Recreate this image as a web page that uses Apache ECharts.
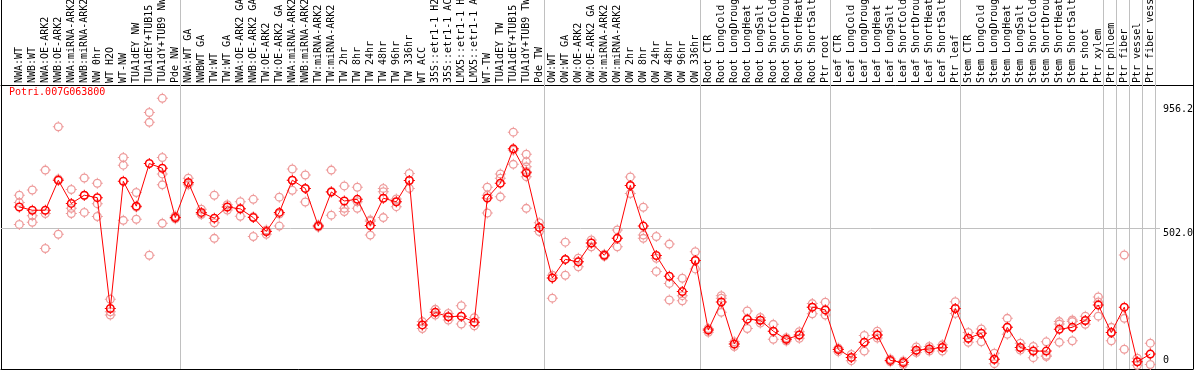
<!DOCTYPE html>
<html>
<head>
<meta charset="utf-8">
<script src="https://cdn.jsdelivr.net/npm/echarts@6/dist/echarts.min.js"></script>
<style>
html,body{margin:0;padding:0;background:#fff;}
#chart{width:1194px;height:370px;}
</style>
</head>
<body>
<div id="chart"></div>
<script>
const title = 'Potri.007G063800';

const categories = [
  'NWA:WT','NWB:WT','NWA:OE-ARK2','NWB:OE-ARK2','NWA:miRNA-ARK2','NWB:miRNA-ARK2','NW 0hr','WT H2O','WT-NW',
  'TUA1dEY NW','TUA1dEY+TUB15','TUA1dY+TUB9 NW','Pde NW',
  'NWA:WT GA','NWBWT GA','TW:WT','TW:WT GA','NWA:OE-ARK2 GA','NWB:OE-ARK2 GA','TW:OE-ARK2','TW:OE-ARK2 GA',
  'NWA:miRNA-ARK2','NWB:miRNA-ARK2','TW:miRNA-ARK2','TW:miRNA-ARK2','TW 2hr','TW 8hr','TW 24hr','TW 48hr',
  'TW 96hr','TW 336hr','WT ACC','35S::etr1-1 H2','35S::etr1-1 AC','LMX5::etr1-1 H','LMX5::etr1-1 A',
  'WT-TW','TUA1dEY TW','TUA1dEY+TUB15','TUA1dY+TUB9 TW','Pde TW',
  'OW:WT','OW:WT GA','OW:OE-ARK2','OW:OE-ARK2 GA','OW:miRNA-ARK2','OW:miRNA-ARK2','OW 2hr','OW 8hr',
  'OW 24hr','OW 48hr','OW 96hr','OW 336hr',
  'Root CTR','Root LongCold','Root LongDroug','Root LongHeat','Root LongSalt','Root ShortCold','Root ShortDrou',
  'Root ShortHeat','Root ShortSalt','Ptr root',
  'Leaf CTR','Leaf LongCold','Leaf LongDroug','Leaf LongHeat','Leaf LongSalt','Leaf ShortCold','Leaf ShortDrou',
  'Leaf ShortHeat','Leaf ShortSalt','Ptr leaf',
  'Stem CTR','Stem LongCold','Stem LongDroug','Stem LongHeat','Stem LongSalt','Stem ShortCold','Stem ShortDrou',
  'Stem ShortHeat','Stem ShortSalt','Ptr shoot','Ptr xylem','Ptr phloem','Ptr fiber','Ptr vessel','Ptr fiber vess'
];

const means = [
  580,568,568,678,593,623,614,208,674,583,739,722,541,
  670,560,539,580,573,541,490,560,678,648,510,635,602,608,512,612,599,677,148,194,178,180,158,613,667,793,705,505,
  320,388,379,448,403,465,659,510,402,326,270,384,
  129,232,78,169,165,125,95,111,213,203,
  58,29,84,111,18,10,55,60,65,208,
  99,117,22,139,65,52,52,132,139,164,221,
  120,213,13,41
];

const reps = [
  [623,596,516],[642,548,524],[715,556,428],[874,682,480],[644,575,556],[686,622,560],[667,592,545],
  [242,196,184],[761,733,531],[633,580,535],[926,890,403],[978,761,701,661,520],[547,540,537],
  [685,667,661],[572,556,552],[623,522,465],[588,580,569],[599,573,546],[608,544,472],[496,490,480],
  [616,554,510],[719,678,641],[697,648,598],[514,510,506],[715,637,550],[657,575,563],[652,599,575],
  [532,528,477],[648,636,541],[609,599,581],[703,677,648],[160,148,135],[205,194,184],[190,178,166],
  [218,180,151],[174,158,145],[652,623,558],[701,685,617],[854,788,736],[773,746,727,710,691,575],
  [522,505,490],
  [330,320,246],[451,388,330],[392,379,361],[459,448,434],[407,399],[496,465,434],[690,659,629],
  [579,477,465],[472,392,344],[444,300,239],[319,255,236],[416,384,353],
  [135,129,121],[255,246,194],[86,78,69],[199,169,135],[175,165,155],[150,125,95],[101,95,89],
  [123,111,99],[226,213,189],[231,203,184],
  [63,58,50],[40,29,17],[109,84,52],[125,111,100],[23,18,13],[16,10,3],[67,55,47],[69,60,52],
  [75,65,52],[233,208,190],
  [120,99,84],[133,117,86],[44,22,6],[172,139,114],[81,65,56],[69,52,28],[86,37,32],[160,151,84],
  [166,160,90],[180,164,150],[250,232,180],
  [139,120,90],[404,172,59],[26,13,0],[81,41,3]
];

const yTickValues = [0, 502.0, 956.2];
const groupEnds = [12, 40, 52, 62, 72, 83, 84, 85, 86, 87];

// ---- layout / style ----
const X_MIN = -1.408, X_MAX = 90.285;
const Y_MIN = -13.55, Y_MAX = 1338.1;
const SEP_OFFSET = 0.36;
const GRID_END_X = 87.75;
const MONO = 'DejaVu Sans Mono';
const RED = '#ff0000';
const PINK = '#ee9a9a';
const GRAY = '#c0c0c0';

const meanSymbol = 'path://M1 5.5A4.5 4.5 0 1 1 10 5.5A4.5 4.5 0 1 1 1 5.5ZM2.5 5.5A3 3 0 1 0 8.5 5.5A3 3 0 1 0 2.5 5.5ZM5 0H6V1.5H5ZM5 9.5H6V11H5ZM0 5H1.5V6H0ZM9.5 5H11V6H9.5Z';
const repSymbol = 'path://M1 5.5A4.5 4.5 0 1 1 10 5.5A4.5 4.5 0 1 1 1 5.5ZM2.3 5.5A3.2 3.2 0 1 0 8.7 5.5A3.2 3.2 0 1 0 2.3 5.5ZM5 0H6V1.5H5ZM5 9.5H6V11H5ZM0 5H1.5V6H0ZM9.5 5H11V6H9.5Z';

const meanData = means.map((v, i) => [i, v]);
const repData = [];
reps.forEach((arr, i) => arr.forEach(v => repData.push([i, v])));

const fmtY = v => (v === 0 ? '0' : Number(v).toFixed(1));

const chart = echarts.init(document.getElementById('chart'), null, {renderer: 'canvas'});
chart.setOption({
  animation: false,
  backgroundColor: '#fff',
  title: {
    text: title, left: 9, top: 87, padding: 0,
    textStyle: {color: RED, fontSize: 10, fontFamily: MONO, fontWeight: 'normal'}
  },
  grid: {left: 1, right: 1, top: 0, bottom: 1, containLabel: false, outerBoundsMode: 'none'},
  xAxis: [
    {
      type: 'value', position: 'top', offset: -85, min: X_MIN, max: X_MAX,
      axisLine: {show: true, onZero: false, lineStyle: {color: '#000', width: 1}},
      axisTick: {show: false}, splitLine: {show: false},
      axisLabel: {
        show: true, rotate: -90, margin: 2, color: '#000', fontSize: 10, fontFamily: MONO,
        customValues: categories.map((_, i) => i),
        formatter: v => categories[Math.round(v)] || ''
      }
    },
    {
      type: 'value', position: 'bottom', min: X_MIN, max: X_MAX,
      axisLine: {show: true, onZero: false, lineStyle: {color: '#000', width: 1}},
      axisTick: {show: false}, splitLine: {show: false}, axisLabel: {show: false}
    }
  ],
  yAxis: [
    {
      type: 'value', position: 'right', min: Y_MIN, max: Y_MAX,
      axisLine: {show: true, onZero: false, lineStyle: {color: '#000', width: 1}},
      axisTick: {show: false}, splitLine: {show: false},
      axisLabel: {
        show: true, inside: true, align: 'left', verticalAlign: 'top', margin: 30,
        color: '#000', fontSize: 10, fontFamily: MONO,
        customValues: yTickValues.filter(v => v !== 0), formatter: fmtY
      }
    },
    {
      type: 'value', position: 'right', min: Y_MIN, max: Y_MAX,
      axisLine: {show: false}, axisTick: {show: false}, splitLine: {show: false},
      axisLabel: {
        show: true, inside: true, align: 'left', verticalAlign: 'bottom', margin: 30,
        color: '#000', fontSize: 10, fontFamily: MONO,
        customValues: yTickValues.filter(v => v === 0), formatter: fmtY
      }
    },
    {
      type: 'value', position: 'left', min: Y_MIN, max: Y_MAX,
      axisLine: {show: true, onZero: false, lineStyle: {color: '#000', width: 1}},
      axisTick: {show: false}, splitLine: {show: false}, axisLabel: {show: false}
    }
  ],
  series: [
    {
      type: 'scatter', xAxisIndex: 0, yAxisIndex: 0, data: [], z: 1, silent: true,
      markLine: {
        silent: true, symbol: ['none', 'none'], z: 1, animation: false,
        label: {show: false}, emphasis: {disabled: true},
        lineStyle: {color: GRAY, width: 1, type: 'solid'},
        data: groupEnds.map(g => ({xAxis: g + SEP_OFFSET})).concat([
          [{coord: [X_MIN, 502]}, {coord: [GRID_END_X, 502]}]
        ])
      }
    },
    {
      type: 'scatter', xAxisIndex: 0, yAxisIndex: 0, z: 2, silent: true,
      symbol: repSymbol, symbolSize: 11,
      itemStyle: {color: PINK, opacity: 1},
      data: repData
    },
    {
      type: 'line', xAxisIndex: 0, yAxisIndex: 0, z: 3, silent: true,
      symbol: meanSymbol, symbolSize: 11, showAllSymbol: true,
      itemStyle: {color: RED},
      lineStyle: {color: RED, width: 1},
      data: meanData
    }
  ]
});
</script>
</body>
</html>
